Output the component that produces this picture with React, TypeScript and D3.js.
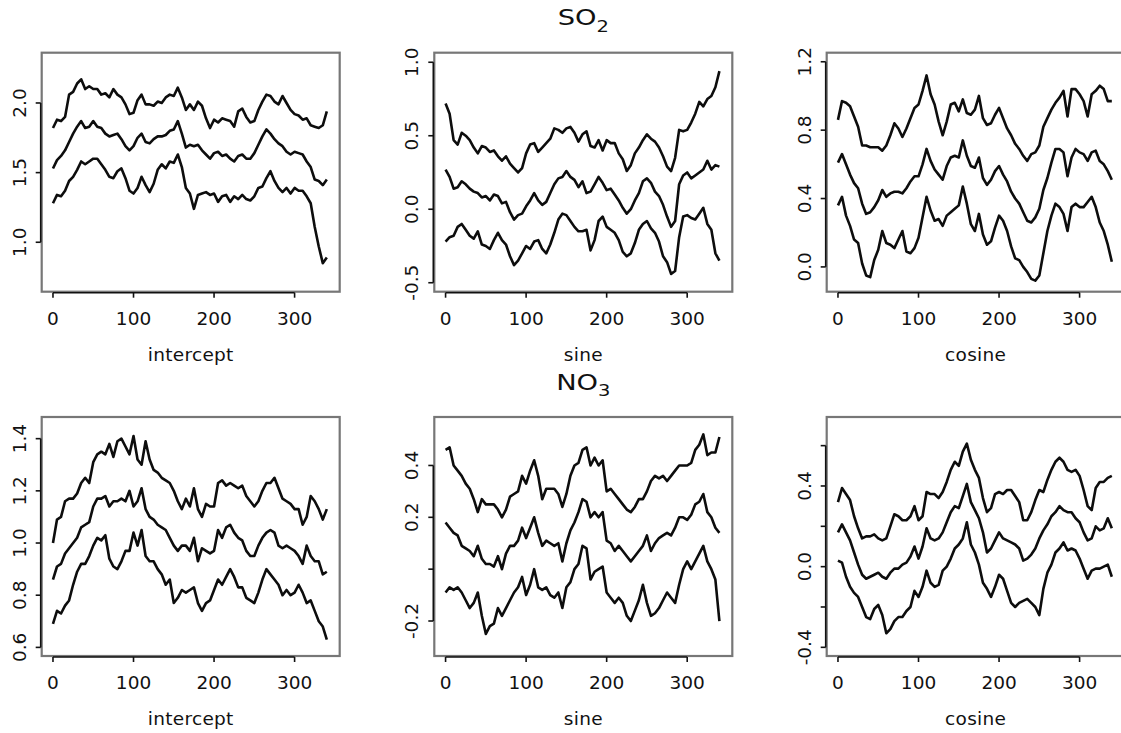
import * as d3 from 'd3';

// sample positions along the series (every 5 steps, 0..340)
const sampleX = d3.range(0, 345, 5);

// SO2 - intercept
const so2InterceptUpper = [
  1.82, 1.88, 1.87, 1.90, 2.06, 2.08, 2.14, 2.17, 2.10, 2.12,
  2.10, 2.10, 2.06, 2.07, 2.04, 2.10, 2.06, 2.04, 1.99, 1.92,
  1.93, 2.02, 2.06, 1.99, 1.99, 1.98, 2.01, 2.00, 2.04, 2.06,
  2.05, 2.11, 2.04, 1.95, 1.99, 1.95, 2.01, 1.98, 1.89, 1.82,
  1.88, 1.86, 1.89, 1.88, 1.87, 1.83, 1.94, 1.96, 1.90, 1.86,
  1.87, 1.95, 2.01, 2.06, 2.05, 2.01, 1.99, 2.05, 2.00, 1.95,
  1.92, 1.91, 1.88, 1.89, 1.84, 1.83, 1.82, 1.84, 1.94,
];
const so2InterceptMid = [
  1.53, 1.59, 1.62, 1.66, 1.72, 1.78, 1.83, 1.87, 1.82, 1.83,
  1.87, 1.83, 1.82, 1.78, 1.76, 1.77, 1.78, 1.74, 1.69, 1.66,
  1.69, 1.75, 1.78, 1.72, 1.71, 1.74, 1.76, 1.76, 1.77, 1.80,
  1.81, 1.87, 1.78, 1.68, 1.70, 1.69, 1.70, 1.66, 1.63, 1.60,
  1.64, 1.65, 1.62, 1.63, 1.60, 1.58, 1.62, 1.63, 1.60, 1.60,
  1.64, 1.70, 1.76, 1.81, 1.78, 1.74, 1.71, 1.69, 1.65, 1.63,
  1.65, 1.64, 1.63, 1.58, 1.54, 1.45, 1.44, 1.41, 1.45,
];
const so2InterceptLower = [
  1.28, 1.34, 1.33, 1.37, 1.44, 1.47, 1.52, 1.58, 1.56, 1.58,
  1.60, 1.60, 1.56, 1.52, 1.47, 1.46, 1.51, 1.53, 1.46, 1.37,
  1.35, 1.39, 1.47, 1.41, 1.36, 1.42, 1.52, 1.56, 1.53, 1.58,
  1.57, 1.63, 1.54, 1.39, 1.35, 1.24, 1.34, 1.35, 1.36, 1.34,
  1.35, 1.29, 1.33, 1.34, 1.29, 1.33, 1.31, 1.34, 1.31, 1.30,
  1.33, 1.39, 1.40, 1.46, 1.51, 1.44, 1.39, 1.36, 1.39, 1.35,
  1.39, 1.37, 1.37, 1.33, 1.28, 1.11, 0.97, 0.85, 0.89,
];

// SO2 - sine
const so2SineUpper = [
  0.72, 0.65, 0.47, 0.44, 0.52, 0.50, 0.47, 0.42, 0.38, 0.43,
  0.42, 0.39, 0.40, 0.36, 0.33, 0.36, 0.31, 0.28, 0.25, 0.28,
  0.38, 0.44, 0.45, 0.39, 0.42, 0.45, 0.48, 0.55, 0.54, 0.52,
  0.55, 0.56, 0.52, 0.46, 0.51, 0.53, 0.43, 0.42, 0.47, 0.40,
  0.47, 0.45, 0.45, 0.38, 0.34, 0.26, 0.30, 0.38, 0.42, 0.47,
  0.51, 0.48, 0.46, 0.42, 0.36, 0.29, 0.26, 0.35, 0.54, 0.53,
  0.54, 0.59, 0.65, 0.73, 0.70, 0.75, 0.77, 0.83, 0.94,
];
const so2SineMid = [
  0.27, 0.22, 0.14, 0.15, 0.19, 0.17, 0.14, 0.12, 0.11, 0.08,
  0.09, 0.06, 0.10, 0.09, 0.04, 0.05, -0.02, -0.07, -0.04, -0.03,
  0.02, 0.06, 0.11, 0.06, 0.03, 0.05, 0.11, 0.17, 0.21, 0.22,
  0.26, 0.22, 0.20, 0.15, 0.19, 0.11, 0.12, 0.17, 0.22, 0.18,
  0.13, 0.14, 0.10, 0.06, 0.01, -0.03, 0.00, 0.06, 0.11, 0.19,
  0.21, 0.18, 0.12, 0.09, 0.03, -0.05, -0.12, -0.08, 0.17, 0.23,
  0.25, 0.21, 0.23, 0.25, 0.27, 0.33, 0.27, 0.30, 0.29,
];
const so2SineLower = [
  -0.22, -0.19, -0.18, -0.12, -0.10, -0.14, -0.18, -0.20, -0.15, -0.24,
  -0.25, -0.27, -0.21, -0.16, -0.21, -0.24, -0.32, -0.38, -0.35, -0.30,
  -0.25, -0.27, -0.22, -0.21, -0.27, -0.30, -0.24, -0.16, -0.07, -0.03,
  -0.04, -0.08, -0.12, -0.15, -0.15, -0.14, -0.28, -0.21, -0.08, -0.05,
  -0.12, -0.14, -0.16, -0.21, -0.29, -0.32, -0.30, -0.23, -0.14, -0.10,
  -0.08, -0.13, -0.16, -0.22, -0.32, -0.36, -0.44, -0.42, -0.19, -0.05,
  -0.04, -0.06, -0.07, -0.03, 0.01, -0.10, -0.14, -0.30, -0.35,
];

// SO2 - cosine
const so2CosineUpper = [
  0.86, 0.97, 0.96, 0.94, 0.88, 0.82, 0.71, 0.71, 0.70, 0.70,
  0.70, 0.68, 0.71, 0.77, 0.84, 0.81, 0.76, 0.81, 0.87, 0.93,
  0.95, 1.03, 1.12, 1.01, 0.95, 0.85, 0.77, 0.85, 0.95, 0.96,
  0.91, 0.98, 0.90, 0.89, 0.92, 1.00, 0.87, 0.83, 0.84, 0.89,
  0.93, 0.87, 0.81, 0.77, 0.72, 0.69, 0.65, 0.62, 0.66, 0.67,
  0.71, 0.82, 0.87, 0.92, 0.96, 0.99, 1.03, 0.88, 1.04, 1.04,
  1.01, 0.97, 0.88, 1.01, 1.03, 1.06, 1.04, 0.97, 0.97,
];
const so2CosineMid = [
  0.61, 0.66, 0.60, 0.54, 0.49, 0.46, 0.37, 0.31, 0.32, 0.35,
  0.39, 0.45, 0.41, 0.43, 0.44, 0.44, 0.43, 0.46, 0.50, 0.53,
  0.53, 0.60, 0.69, 0.62, 0.57, 0.54, 0.51, 0.59, 0.64, 0.65,
  0.64, 0.74, 0.65, 0.59, 0.58, 0.64, 0.52, 0.48, 0.51, 0.56,
  0.59, 0.54, 0.50, 0.44, 0.40, 0.37, 0.32, 0.27, 0.26, 0.29,
  0.34, 0.45, 0.52, 0.61, 0.69, 0.69, 0.67, 0.53, 0.64, 0.69,
  0.67, 0.66, 0.62, 0.67, 0.68, 0.62, 0.60, 0.56, 0.51,
];
const so2CosineLower = [
  0.36, 0.41, 0.30, 0.24, 0.16, 0.14, 0.02, -0.05, -0.06, 0.04,
  0.10, 0.21, 0.14, 0.13, 0.11, 0.16, 0.21, 0.09, 0.08, 0.11,
  0.17, 0.29, 0.41, 0.33, 0.27, 0.28, 0.24, 0.30, 0.32, 0.34,
  0.36, 0.47, 0.37, 0.25, 0.21, 0.31, 0.19, 0.13, 0.15, 0.23,
  0.30, 0.27, 0.21, 0.12, 0.05, 0.04, 0.00, -0.03, -0.07, -0.08,
  -0.05, 0.08, 0.21, 0.30, 0.37, 0.35, 0.31, 0.21, 0.35, 0.37,
  0.35, 0.35, 0.38, 0.41, 0.35, 0.26, 0.21, 0.13, 0.03,
];

// NO3 - intercept
const no3InterceptUpper = [
  1.00, 1.09, 1.10, 1.16, 1.17, 1.17, 1.19, 1.23, 1.25, 1.23,
  1.31, 1.34, 1.35, 1.34, 1.38, 1.33, 1.39, 1.40, 1.37, 1.34,
  1.41, 1.32, 1.30, 1.39, 1.32, 1.28, 1.27, 1.25, 1.24, 1.23,
  1.20, 1.16, 1.13, 1.17, 1.14, 1.21, 1.13, 1.10, 1.15, 1.14,
  1.14, 1.23, 1.24, 1.22, 1.23, 1.22, 1.21, 1.22, 1.18, 1.16,
  1.14, 1.16, 1.20, 1.23, 1.23, 1.25, 1.21, 1.17, 1.16, 1.15,
  1.13, 1.13, 1.07, 1.10, 1.18, 1.16, 1.13, 1.09, 1.13,
];
const no3InterceptMid = [
  0.86, 0.91, 0.92, 0.96, 0.98, 1.00, 1.02, 1.06, 1.07, 1.08,
  1.14, 1.17, 1.17, 1.18, 1.14, 1.16, 1.16, 1.17, 1.16, 1.20,
  1.14, 1.16, 1.21, 1.13, 1.10, 1.09, 1.07, 1.06, 1.05, 1.02,
  0.99, 0.97, 0.99, 0.99, 0.97, 1.02, 0.93, 0.98, 0.97, 0.96,
  0.97, 1.05, 1.02, 1.06, 1.07, 1.04, 1.02, 1.01, 0.97, 0.95,
  0.95, 0.99, 1.02, 1.04, 1.05, 1.04, 0.99, 0.98, 0.99, 0.98,
  0.97, 0.95, 0.92, 0.99, 0.95, 0.93, 0.93, 0.88, 0.89,
];
const no3InterceptLower = [
  0.69, 0.74, 0.73, 0.76, 0.78, 0.84, 0.89, 0.92, 0.92, 0.95,
  0.99, 1.02, 1.01, 1.03, 0.94, 0.91, 0.90, 0.93, 0.97, 0.97,
  1.04, 0.99, 1.05, 0.95, 0.93, 0.93, 0.90, 0.88, 0.84, 0.86,
  0.77, 0.79, 0.82, 0.81, 0.82, 0.83, 0.77, 0.74, 0.77, 0.78,
  0.82, 0.86, 0.84, 0.87, 0.90, 0.87, 0.83, 0.83, 0.79, 0.78,
  0.77, 0.81, 0.86, 0.90, 0.88, 0.86, 0.84, 0.80, 0.82, 0.80,
  0.81, 0.84, 0.81, 0.77, 0.78, 0.74, 0.70, 0.68, 0.63,
];

// NO3 - sine
const no3SineUpper = [
  0.46, 0.47, 0.40, 0.38, 0.36, 0.33, 0.31, 0.27, 0.22, 0.27,
  0.25, 0.25, 0.25, 0.23, 0.20, 0.23, 0.28, 0.29, 0.30, 0.36,
  0.33, 0.38, 0.42, 0.36, 0.27, 0.31, 0.31, 0.31, 0.29, 0.24,
  0.29, 0.36, 0.40, 0.41, 0.46, 0.47, 0.40, 0.43, 0.40, 0.42,
  0.30, 0.31, 0.29, 0.27, 0.25, 0.23, 0.22, 0.24, 0.27, 0.27,
  0.30, 0.34, 0.36, 0.35, 0.36, 0.34, 0.36, 0.38, 0.40, 0.40,
  0.40, 0.41, 0.46, 0.48, 0.52, 0.44, 0.45, 0.45, 0.51,
];
const no3SineMid = [
  0.18, 0.16, 0.14, 0.13, 0.09, 0.08, 0.07, 0.05, 0.09, 0.04,
  0.02, 0.02, 0.01, 0.05, 0.00, 0.06, 0.09, 0.09, 0.11, 0.16,
  0.12, 0.16, 0.20, 0.14, 0.09, 0.11, 0.10, 0.09, 0.10, 0.03,
  0.10, 0.15, 0.18, 0.22, 0.27, 0.26, 0.20, 0.22, 0.20, 0.22,
  0.11, 0.10, 0.07, 0.09, 0.07, 0.05, 0.03, 0.05, 0.07, 0.09,
  0.13, 0.07, 0.10, 0.12, 0.13, 0.14, 0.13, 0.16, 0.20, 0.20,
  0.19, 0.21, 0.25, 0.26, 0.29, 0.22, 0.20, 0.16, 0.14,
];
const no3SineLower = [
  -0.09, -0.07, -0.08, -0.07, -0.09, -0.12, -0.15, -0.13, -0.09, -0.18,
  -0.25, -0.22, -0.21, -0.15, -0.18, -0.15, -0.12, -0.09, -0.07, -0.03,
  -0.10, -0.06, 0.00, -0.07, -0.08, -0.07, -0.10, -0.11, -0.09, -0.15,
  -0.07, -0.05, 0.00, 0.02, 0.09, 0.08, -0.04, -0.01, 0.00, 0.01,
  -0.09, -0.11, -0.13, -0.11, -0.13, -0.18, -0.20, -0.16, -0.12, -0.06,
  -0.13, -0.18, -0.17, -0.15, -0.12, -0.09, -0.11, -0.13, -0.06, 0.00,
  0.03, 0.00, 0.03, 0.06, 0.09, 0.03, 0.00, -0.04, -0.20,
];

// NO3 - cosine
const no3CosineUpper = [
  0.32, 0.39, 0.36, 0.33, 0.25, 0.19, 0.14, 0.15, 0.15, 0.16,
  0.14, 0.13, 0.14, 0.20, 0.26, 0.25, 0.23, 0.23, 0.25, 0.30,
  0.23, 0.25, 0.37, 0.36, 0.36, 0.34, 0.37, 0.42, 0.48, 0.52,
  0.50, 0.57, 0.61, 0.53, 0.48, 0.44, 0.34, 0.27, 0.29, 0.36,
  0.37, 0.36, 0.38, 0.38, 0.35, 0.32, 0.23, 0.23, 0.27, 0.33,
  0.38, 0.37, 0.43, 0.48, 0.52, 0.54, 0.52, 0.48, 0.47, 0.48,
  0.45, 0.38, 0.30, 0.28, 0.39, 0.42, 0.42, 0.44, 0.45,
];
const no3CosineMid = [
  0.17, 0.21, 0.17, 0.13, 0.07, 0.01, -0.04, -0.06, -0.05, -0.04,
  -0.03, -0.05, -0.06, -0.03, -0.01, -0.01, 0.01, 0.02, 0.05, 0.10,
  0.04, 0.10, 0.19, 0.14, 0.13, 0.14, 0.17, 0.22, 0.27, 0.30,
  0.29, 0.35, 0.41, 0.32, 0.28, 0.24, 0.17, 0.07, 0.09, 0.13,
  0.17, 0.14, 0.13, 0.12, 0.11, 0.09, 0.03, 0.04, 0.06, 0.09,
  0.14, 0.18, 0.21, 0.25, 0.27, 0.30, 0.28, 0.27, 0.27, 0.24,
  0.22, 0.17, 0.13, 0.14, 0.20, 0.18, 0.19, 0.24, 0.19,
];
const no3CosineLower = [
  0.03, 0.02, -0.05, -0.10, -0.13, -0.15, -0.20, -0.25, -0.26, -0.21,
  -0.19, -0.24, -0.33, -0.31, -0.27, -0.25, -0.25, -0.22, -0.20, -0.12,
  -0.15, -0.10, -0.02, -0.08, -0.10, -0.09, -0.02, 0.00, 0.04, 0.09,
  0.11, 0.14, 0.22, 0.11, 0.07, 0.01, -0.08, -0.11, -0.15, -0.10,
  -0.04, -0.06, -0.12, -0.18, -0.20, -0.18, -0.17, -0.16, -0.18, -0.20,
  -0.24, -0.11, -0.03, 0.01, 0.07, 0.09, 0.12, 0.08, 0.09, 0.08,
  0.04, -0.01, -0.06, -0.02, -0.01, -0.01, 0.00, 0.01, -0.05,
];

const xTicks = [0, 100, 200, 300];

const panels = [
  { row: 0, col: 0, label: 'intercept', yDomain: [0.645, 2.361], yTicks: [1.0, 1.5, 2.0], yTickLabels: ['1.0', '1.5', '2.0'], series: [so2InterceptUpper, so2InterceptMid, so2InterceptLower] },
  { row: 0, col: 1, label: 'sine', yDomain: [-0.561, 1.065], yTicks: [-0.5, 0, 0.5, 1.0], yTickLabels: ['-0.5', '0.0', '0.5', '1.0'], series: [so2SineUpper, so2SineMid, so2SineLower] },
  { row: 0, col: 2, label: 'cosine', yDomain: [-0.145, 1.253], yTicks: [0, 0.4, 0.8, 1.2], yTickLabels: ['0.0', '0.4', '0.8', '1.2'], series: [so2CosineUpper, so2CosineMid, so2CosineLower] },
  { row: 1, col: 0, label: 'intercept', yDomain: [0.567, 1.483], yTicks: [0.6, 0.8, 1.0, 1.2, 1.4], yTickLabels: ['0.6', '0.8', '1.0', '1.2', '1.4'], series: [no3InterceptUpper, no3InterceptMid, no3InterceptLower] },
  { row: 1, col: 1, label: 'sine', yDomain: [-0.335, 0.587], yTicks: [-0.2, 0, 0.2, 0.4], yTickLabels: ['-0.2', '', '0.2', '0.4'], series: [no3SineUpper, no3SineMid, no3SineLower] },
  { row: 1, col: 2, label: 'cosine', yDomain: [-0.443, 0.742], yTicks: [-0.4, -0.2, 0, 0.2, 0.4, 0.6], yTickLabels: ['-0.4', '', '0.0', '', '0.4', ''], series: [no3CosineUpper, no3CosineMid, no3CosineLower] },
];

const titles = [
  { row: 0, main: 'SO', sub: '2' },
  { row: 1, main: 'NO', sub: '3' },
];

const W = 1121;
const H = 733;
const colLeft = [41.7, 434.3, 826.7];
const rowTop = [52.7, 417];
const boxW = 298;
const boxH = 239;
const font = '"DejaVu Sans", sans-serif';
const ink = '#111';

function Panel({ p }: { p: any }) {
  const left = colLeft[p.col];
  const top = rowTop[p.row];
  const bottom = top + boxH;
  const x = d3.scaleLinear().domain([-14, 356]).range([left, left + boxW]);
  const y = d3.scaleLinear().domain(p.yDomain).range([bottom, top]);
  const line = d3.line<number>()
    .x((_, i) => x(sampleX[i]))
    .y(d => y(d));
  const yMin = y(p.yTicks[0]);
  const yMax = y(p.yTicks[p.yTicks.length - 1]);
  const cx = left + boxW / 2;

  return (
    <g>
      <rect x={left} y={top} width={boxW} height={boxH} fill="none" stroke="#777" strokeWidth={2.2} />
      {p.series.map((s: number[], i: number) => (
        <path key={i} d={line(s) || ''} fill="none" stroke="#0d0d0d" strokeWidth={2.6} strokeLinejoin="round" />
      ))}
      {/* x axis */}
      <line x1={x(xTicks[0])} x2={x(xTicks[xTicks.length - 1])} y1={bottom + 1} y2={bottom + 1} stroke={ink} strokeWidth={1.6} />
      {xTicks.map(t => (
        <g key={t}>
          <line x1={x(t)} x2={x(t)} y1={bottom + 1} y2={bottom + 6} stroke={ink} strokeWidth={1.6} />
          <text x={x(t)} y={bottom + 33} textAnchor="middle" fontFamily={font} fontSize={18.5} fill={ink}>{t}</text>
        </g>
      ))}
      <text x={cx} y={bottom + 69} textAnchor="middle" fontFamily={font} fontSize={18.5} letterSpacing={0.3} fill={ink}>{p.label}</text>
      {/* y axis */}
      <line x1={left - 1} x2={left - 1} y1={yMin} y2={yMax} stroke={ink} strokeWidth={1.6} />
      {p.yTicks.map((t: number, i: number) => (
        <g key={i}>
          <line x1={left - 1} x2={left - 6} y1={y(t)} y2={y(t)} stroke={ink} strokeWidth={1.6} />
          {p.yTickLabels[i] && (
            <text transform={`translate(${left - 16},${y(t)}) rotate(-90)`} textAnchor="middle" fontFamily={font} fontSize={18.5} fill={ink}>{p.yTickLabels[i]}</text>
          )}
        </g>
      ))}
    </g>
  );
}

export default function App() {
  const titleX = colLeft[1] + boxW / 2;
  return (
    <div>
      <style>{`body{margin:0;background:#fff}`}</style>
      <svg width={W} height={H} style={{ display: 'block' }}>
        <rect width={W} height={H} fill="#fff" />
        {panels.map((p, i) => <Panel key={i} p={p} />)}
        {titles.map(t => (
          <g key={t.row} transform={`translate(${titleX},${rowTop[t.row] - 27.5}) scale(1.3,1)`}>
            <text x={0} y={0} textAnchor="middle" fontFamily={font} fontSize={21} fill={ink}>
              {t.main}
              <tspan fontSize={15} dy={6.5}>{t.sub}</tspan>
            </text>
          </g>
        ))}
      </svg>
    </div>
  );
}
